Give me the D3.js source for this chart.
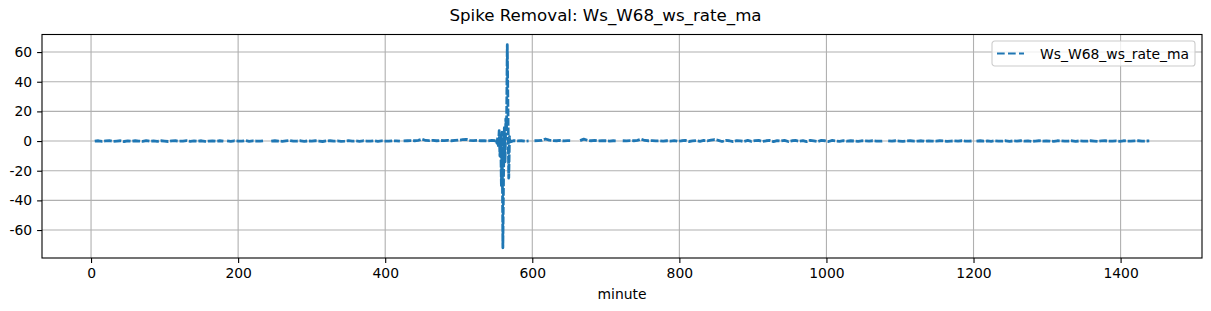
<!DOCTYPE html>
<html>
<head>
<meta charset="utf-8">
<script src="https://cdn.jsdelivr.net/npm/d3@7"></script>
<style>
  body { margin: 0; background: #fff; }
  text { font-family: "DejaVu Sans", sans-serif; fill: #000; }
</style>
</head>
<body>
<svg id="chart"></svg>
<script>
// Series name / labels
var seriesName = "Ws_W68_ws_rate_ma";
var titleText = "Spike Removal: " + seriesName;
var xLabel = "minute";
var xTicks = [0, 200, 400, 600, 800, 1000, 1200, 1400];
var yTicks = [-60, -40, -20, 0, 20, 40, 60];

// Data, one array per unbroken stretch (5 min steps, spike in 1 min steps)
var rateA = [-0.1,0.2,-0.2,0.1,0.3,-0.2,0.0,0.2,-0.3,0.1,-0.1,0.2,0.0,-0.2,0.3,-0.1,0.1,-0.2,0.2,0.0,-0.3,0.1,0.2,-0.1,0.0,0.3,-0.2,0.1,-0.1,0.2,-0.2,0.0,0.1,-0.1,0.2,-0.1];
var rateB = [0.1,-0.2,0.2,0.0,-0.1,0.3,-0.2,0.1,0.0,-0.1,0.2];
var rateC = [-0.1,0.2,0.0,-0.2,0.1,0.3,-0.1,0.0,0.2,-0.2,0.1,-0.1,0.2,0.0,-0.3,0.1,0.2,-0.1,0.1,-0.2,0.0,0.3,-0.1,0.1,-0.2,0.2,0.0,-0.1,0.2,-0.2,0.1,0.0,-0.1,0.2,0.1,-0.1];
var rateD1 = [0.1,0.2,0.3,0.2,0.5,1.3,0.4,0.3,0.5,0.2,0.4,0.3,0.5,0.2,0.4,0.6,0.9,1.2,0.5,0.3,0.4,0.2,0.3,0.1,0.4,0.2];
var rateSpike = [0.6,-1.5,2.5,-4,7,-10,4,-30,6,-72,-20,9,-14,15,8,65,18,-25,3,-0.5];
var rateD2 = [0.3,0.1,0.2,-0.1,0.1];
var rateE = [0.2,0.3,0.5,1.4,0.6,0.3,0.2,0.4,0.1,0.3,0.2];
var rateF = [0.3,1.3,0.5,0.2,0.4,0.1,0.3,0.2,0.0,0.2,0.1];
var rateG = [0.2,0.1,0.3,0.2,0.5,1.3,0.4,0.2,0.3,0.1,
             0.2,-0.1,0.2,0.0,0.3,-0.2,0.2,0.4,-0.3,0.1,
             0.3,-0.2,0.4,0.2,0.6,1.0,0.5,-0.3,0.4,0.2,
             -0.4,0.3,0.1,-0.3,0.4,-0.2,0.3,0.5,-0.3,0.2,
             0.4,-0.4,0.3,0.0,0.5,-0.3,0.2,0.4,-0.2,0.3,
             -0.4,0.5,0.1,-0.3,0.4,0.2,-0.3,0.5,0.1,-0.2,
             0.3,-0.1,0.2,0.0,-0.2,0.2,0.1,-0.1,0.2,0.0,
             -0.1,0.1];
var rateH = [0.1,-0.1,0.2,0.0,-0.2,0.1,0.2,-0.1,0.0,0.2,-0.2,0.1,0.0,-0.1,0.2,0.1,-0.2,0.0,0.1,-0.1,0.2,0.0,-0.1,0.1];
var rateI = [0.0,0.2,-0.1,0.1,-0.2,0.2,0.0,-0.1,0.2,-0.2,
             0.1,0.0,0.2,-0.1,0.1,-0.2,0.0,0.2,-0.1,0.1,
             0.0,-0.2,0.2,0.1,-0.1,0.0,0.2,-0.2,0.1,0.0,
             -0.1,0.2,0.0,-0.2,0.1,0.2,-0.1,0.0,0.1,-0.2,
             0.2,0.0,-0.1,0.1,0.2,-0.1,0.0,0.1];

// start minute, step, values, and whether a gap (missing data) follows
var segments = [
  {start: 5,    step: 5, values: rateA,     gap: true},
  {start: 185,  step: 5, values: rateB,     gap: true},
  {start: 245,  step: 5, values: rateC,     gap: true},
  {start: 425,  step: 5, values: rateD1,    gap: false},
  {start: 551,  step: 1, values: rateSpike, gap: false},
  {start: 575,  step: 5, values: rateD2,    gap: true},
  {start: 603,  step: 5, values: rateE,     gap: true},
  {start: 665,  step: 5, values: rateF,     gap: true},
  {start: 723,  step: 5, values: rateG,     gap: true},
  {start: 1084, step: 5, values: rateH,     gap: true},
  {start: 1204, step: 5, values: rateI,     gap: false}
];

var data = [];
segments.forEach(function(s) {
  s.values.forEach(function(v, i) { data.push({x: s.start + i * s.step, y: v}); });
  if (s.gap) data.push({x: null, y: null});
});

// Setting margin
var W = 1211, H = 311;
var margin = {top: 34.5, bottom: 53, left: 42, right: 9};
var width = W - margin.left - margin.right;
var height = H - margin.top - margin.bottom;

var valid = data.filter(function(d) { return d.y != null; });
var xExt = d3.extent(valid, function(d) { return d.x; });
var yExt = d3.extent(valid, function(d) { return d.y; });
var xPad = (xExt[1] - xExt[0]) * 0.05, yPad = (yExt[1] - yExt[0]) * 0.05;

var x = d3.scaleLinear().domain([xExt[0] - xPad, xExt[1] + xPad]).range([0, width]);
var y = d3.scaleLinear().domain([yExt[0] - yPad, yExt[1] + yPad]).range([height, 0]);

var svg = d3.select("#chart").attr("width", W).attr("height", H);

svg.append("text")
  .attr("x", W / 2).attr("y", 21)
  .attr("text-anchor", "middle")
  .style("font-size", "16.67px")
  .text(titleText);

var chart = svg.append("g")
  .attr("transform", "translate(" + margin.left + "," + margin.top + ")");

// grid
chart.append("g").selectAll("line").data(xTicks).enter().append("line")
  .attr("x1", function(d) { return x(d); }).attr("x2", function(d) { return x(d); })
  .attr("y1", 0).attr("y2", height)
  .attr("stroke", "#b0b0b0").attr("stroke-width", 1.1);
chart.append("g").selectAll("line").data(yTicks).enter().append("line")
  .attr("y1", function(d) { return y(d); }).attr("y2", function(d) { return y(d); })
  .attr("x1", 0).attr("x2", width)
  .attr("stroke", "#b0b0b0").attr("stroke-width", 1.1);

// the series (dense data in the original makes the dashes overlap, so a heavier stroke)
var line = d3.line()
  .defined(function(d) { return d.y != null; })
  .x(function(d) { return x(d.x); })
  .y(function(d) { return y(d.y); });

chart.append("path")
  .datum(data)
  .attr("d", line)
  .attr("fill", "none")
  .attr("stroke", "#1f77b4")
  .attr("stroke-width", 2.8)
  .attr("stroke-dasharray", "7.7,1.8")
  .attr("stroke-linejoin", "round");

// axes
var xaxis = d3.axisBottom(x).tickValues(xTicks).tickSize(4.9).tickPadding(4.9).tickFormat(d3.format("d"));
var yaxis = d3.axisLeft(y).tickValues(yTicks).tickSize(4.9).tickPadding(4.9).tickFormat(function(d) { return d < 0 ? "-" + Math.abs(d) : d; });

var gx = chart.append("g").attr("transform", "translate(0," + height + ")").call(xaxis);
var gy = chart.append("g").call(yaxis);
[gx, gy].forEach(function(g) {
  g.select(".domain").remove();
  g.selectAll(".tick line").attr("stroke", "#000").attr("stroke-width", 1.1);
  g.selectAll(".tick text").style("font-size", "13.9px").style("font-family", "DejaVu Sans").attr("fill", "#000");
});

// frame
chart.append("rect")
  .attr("width", width).attr("height", height)
  .attr("fill", "none").attr("stroke", "#000").attr("stroke-width", 1.1);

chart.append("text")
  .attr("x", width / 2).attr("y", height + 41)
  .attr("text-anchor", "middle")
  .style("font-size", "13.9px")
  .text(xLabel);

// legend
var lg = svg.append("g").attr("transform", "translate(992,41)");
lg.append("rect")
  .attr("width", 203).attr("height", 25).attr("rx", 2.8)
  .attr("fill", "#fff").attr("fill-opacity", 0.8)
  .attr("stroke", "#cccccc").attr("stroke-width", 1.1);
lg.append("line")
  .attr("x1", 5).attr("x2", 32).attr("y1", 12.5).attr("y2", 12.5)
  .attr("stroke", "#1f77b4").attr("stroke-width", 2.1)
  .attr("stroke-dasharray", "7.7,3.3");
lg.append("text")
  .attr("x", 48).attr("y", 17.5)
  .style("font-size", "13.9px")
  .text(seriesName);
</script>
</body>
</html>
